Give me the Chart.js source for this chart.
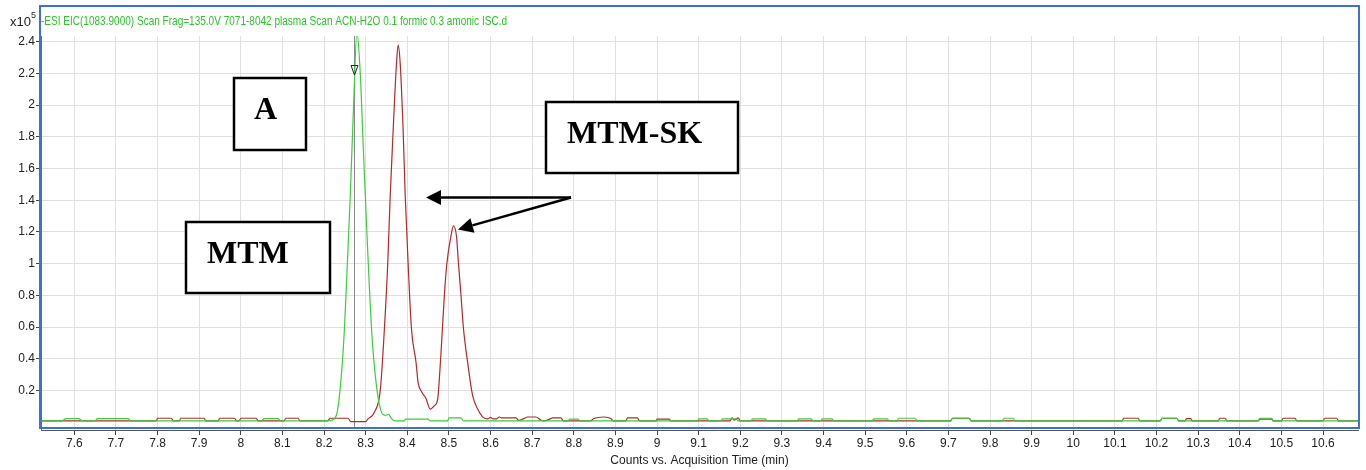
<!DOCTYPE html>
<html>
<head>
<meta charset="utf-8">
<script src="https://cdn.jsdelivr.net/npm/chart.js@4.4.1/dist/chart.umd.min.js"></script>
<style>
  html, body { margin: 0; padding: 0; background: #fff; }
  #wrap { width: 1366px; height: 470px; position: relative; }
</style>
</head>
<body>
<div id="wrap"><canvas id="eicChart"></canvas></div>
<script>
// Tick positions and labels
const xTicks = [7.6, 7.7, 7.8, 7.9, 8, 8.1, 8.2, 8.3, 8.4, 8.5, 8.6, 8.7, 8.8, 8.9, 9, 9.1, 9.2, 9.3, 9.4, 9.5,
  9.6, 9.7, 9.8, 9.9, 10, 10.1, 10.2, 10.3, 10.4, 10.5, 10.6];
const xTickLabels = ['7.6', '7.7', '7.8', '7.9', '8', '8.1', '8.2', '8.3', '8.4', '8.5', '8.6', '8.7', '8.8', '8.9', '9',
  '9.1', '9.2', '9.3', '9.4', '9.5', '9.6', '9.7', '9.8', '9.9', '10', '10.1', '10.2', '10.3', '10.4', '10.5', '10.6'];
const yTicks = [0.2, 0.4, 0.6, 0.8, 1, 1.2, 1.4, 1.6, 1.8, 2, 2.2, 2.4];
const yTickLabels = ['0.2', '0.4', '0.6', '0.8', '1', '1.2', '1.4', '1.6', '1.8', '2', '2.2', '2.4'];

// MTM trace (green), counts x10^5
const mtmTime = [7.52, 7.57, 7.58, 7.61, 7.62, 7.65, 7.655, 7.73, 7.735, 8.05, 8.056, 8.09, 8.095, 8.215,
  8.229, 8.240, 8.249, 8.256, 8.263, 8.271, 8.279, 8.287, 8.294, 8.302, 8.308, 8.314, 8.320, 8.329, 8.336,
  8.341, 8.350, 8.355, 8.362, 8.370, 8.392, 8.396, 8.45, 8.455, 8.497, 8.50, 8.529, 8.535, 8.786, 8.79,
  8.81, 8.815, 9.097, 9.10, 9.12, 9.125, 9.153, 9.157, 9.19, 9.195, 9.225, 9.23, 9.26, 9.265, 9.337, 9.34,
  9.37, 9.375, 9.393, 9.397, 9.42, 9.425, 9.517, 9.52, 9.553, 9.558, 9.577, 9.58, 9.62, 9.625, 9.705, 9.71,
  9.75, 9.755, 9.829, 9.833, 9.856, 9.86, 10.209, 10.213, 10.249, 10.253, 10.444, 10.448, 10.477, 10.48, 10.684];
const mtmCounts = [0.009, 0.009, 0.024, 0.024, 0.009, 0.009, 0.024, 0.024, 0.009, 0.009, 0.024, 0.024, 0.009, 0.012,
  0.04, 0.25, 0.59, 1.0, 1.43, 2.0, 2.46, 2.2, 1.75, 1.25, 0.9, 0.59, 0.38, 0.17, 0.08,
  0.05, 0.045, 0.05, 0.025, 0.009, 0.009, 0.02, 0.02, 0.009, 0.009, 0.028, 0.028, 0.009, 0.009, 0.02,
  0.02, 0.009, 0.009, 0.022, 0.022, 0.009, 0.009, 0.022, 0.022, 0.009, 0.009, 0.022, 0.022, 0.009, 0.009, 0.022,
  0.022, 0.009, 0.009, 0.022, 0.022, 0.009, 0.009, 0.022, 0.022, 0.009, 0.009, 0.026, 0.026, 0.009, 0.009, 0.026,
  0.026, 0.009, 0.009, 0.026, 0.026, 0.009, 0.009, 0.026, 0.026, 0.009, 0.009, 0.026, 0.026, 0.009, 0.009];

// MTM-SK trace (dark red), counts x10^5
const mtmSkTime = [7.52, 7.797, 7.80, 7.833, 7.838, 7.852, 7.856, 7.912, 7.916, 7.945, 7.95, 7.985, 7.99, 7.996,
  8.0, 8.037, 8.042, 8.104, 8.108, 8.138, 8.142, 8.209, 8.214, 8.258, 8.264, 8.30, 8.305, 8.321, 8.335,
  8.345, 8.353, 8.359, 8.366, 8.374, 8.378, 8.383, 8.390, 8.395, 8.402, 8.410, 8.421, 8.426, 8.435, 8.445,
  8.455, 8.465, 8.473, 8.477, 8.482, 8.489, 8.495, 8.505, 8.511, 8.518, 8.523, 8.529, 8.535, 8.545, 8.557,
  8.569, 8.581, 8.593, 8.60, 8.606, 8.615, 8.621, 8.628, 8.661, 8.668, 8.68, 8.689, 8.709, 8.72, 8.728,
  8.745, 8.749, 8.769, 8.775, 8.84, 8.848, 8.872, 8.889, 8.895, 8.925, 8.929, 8.953, 8.958, 8.998, 9.0,
  9.029, 9.033, 9.175, 9.18, 9.185, 9.195, 9.20, 9.705, 9.71, 9.75, 9.755, 10.117, 10.121, 10.156, 10.16,
  10.209, 10.213, 10.249, 10.253, 10.268, 10.272, 10.282, 10.286, 10.348, 10.352, 10.365, 10.369, 10.444,
  10.448, 10.477, 10.48, 10.50, 10.504, 10.533, 10.537, 10.60, 10.604, 10.633, 10.637, 10.684];
const mtmSkCounts = [0.009, 0.009, 0.026, 0.026, 0.009, 0.009, 0.026, 0.026, 0.009, 0.009, 0.026, 0.026, 0.009, 0.009,
  0.026, 0.026, 0.009, 0.009, 0.026, 0.026, 0.009, 0.009, 0.026, 0.026, 0.005, 0.005, 0.02, 0.064, 0.2,
  0.59, 1.0, 1.43, 1.84, 2.26, 2.377, 2.26, 1.84, 1.43, 1.0, 0.59, 0.378, 0.25, 0.19, 0.15,
  0.084, 0.105, 0.147, 0.273, 0.483, 0.8, 1.0, 1.176, 1.239, 1.176, 1.0, 0.8, 0.59, 0.378, 0.168,
  0.084, 0.035, 0.022, 0.032, 0.022, 0.022, 0.034, 0.028, 0.028, 0.012, 0.024, 0.034, 0.034, 0.016, 0.009,
  0.024, 0.028, 0.028, 0.01, 0.009, 0.024, 0.034, 0.024, 0.009, 0.009, 0.028, 0.028, 0.009, 0.009, 0.02,
  0.02, 0.009, 0.009, 0.028, 0.014, 0.028, 0.009, 0.009, 0.026, 0.026, 0.009, 0.009, 0.026, 0.026, 0.009,
  0.009, 0.026, 0.026, 0.009, 0.009, 0.024, 0.024, 0.009, 0.009, 0.026, 0.026, 0.009, 0.009,
  0.02, 0.02, 0.009, 0.009, 0.026, 0.026, 0.009, 0.009, 0.026, 0.026, 0.009, 0.009];

const markerTime = 8.272; // retention time cursor

const narrowFont = "'Liberation Sans Narrow', 'Liberation Sans', Arial, sans-serif";
const serifFont = "'Liberation Serif', 'Times New Roman', serif";

function toPoints(times, counts) {
  return times.map((t, i) => ({ x: t, y: counts[i] }));
}

// draws a straight arrow with a filled head
function arrow(ctx, x1, y1, x2, y2) {
  const ang = Math.atan2(y2 - y1, x2 - x1);
  const headLen = 15, headW = 7.5;
  const bx = x2 - headLen * Math.cos(ang), by = y2 - headLen * Math.sin(ang);
  ctx.beginPath();
  ctx.moveTo(x1, y1);
  ctx.lineTo(bx, by);
  ctx.stroke();
  ctx.beginPath();
  ctx.moveTo(x2, y2);
  ctx.lineTo(bx + headW * Math.sin(ang), by - headW * Math.cos(ang));
  ctx.lineTo(bx - headW * Math.sin(ang), by + headW * Math.cos(ang));
  ctx.closePath();
  ctx.fill();
}

function labelBox(ctx, x, y, w, h, text, tx, ty) {
  ctx.fillStyle = '#fff';
  ctx.fillRect(x, y, w, h);
  ctx.lineWidth = 2.5;
  ctx.strokeStyle = '#000';
  ctx.strokeRect(x, y, w, h);
  ctx.fillStyle = '#000';
  ctx.font = 'bold 32px ' + serifFont;
  ctx.textAlign = 'left';
  ctx.textBaseline = 'alphabetic';
  ctx.fillText(text, tx, ty);
}

const cursorPlugin = {
  id: 'cursor',
  beforeDatasetsDraw(chart) {
    const { ctx, chartArea, scales } = chart;
    const x = Math.round(scales.x.getPixelForValue(markerTime)) + 0.5;
    ctx.save();
    ctx.strokeStyle = '#8a8a8a';
    ctx.lineWidth = 1;
    ctx.beginPath();
    ctx.moveTo(x, chartArea.top);
    ctx.lineTo(x, chartArea.bottom - 2);
    ctx.stroke();
    ctx.restore();
  },
  afterDatasetsDraw(chart) {
    const { ctx, scales } = chart;
    const x = Math.round(scales.x.getPixelForValue(markerTime)) + 0.5;
    ctx.save();
    ctx.strokeStyle = '#222';
    ctx.lineWidth = 1;
    ctx.beginPath();
    ctx.moveTo(x - 3.5, 65.5);
    ctx.lineTo(x + 3.5, 65.5);
    ctx.lineTo(x, 75);
    ctx.closePath();
    ctx.stroke();
    ctx.restore();
  }
};

const framePlugin = {
  id: 'frame',
  afterDraw(chart) {
    const ctx = chart.ctx;
    ctx.save();
    // blue frame around plot
    ctx.strokeStyle = '#3f6fd1';
    ctx.lineWidth = 2;
    ctx.strokeRect(40, 6, 1319, 422);

    // header text, squeezed to the width it has in the reference
    ctx.fillStyle = '#2fc12f';
    ctx.font = '13px ' + narrowFont;
    ctx.textBaseline = 'middle';
    ctx.textAlign = 'left';
    const header = '-ESI EIC(1083.9000) Scan Frag=135.0V 7071-8042 plasma Scan ACN-H2O 0.1 formic 0.3 amonic ISC.d';
    const w = ctx.measureText(header).width;
    ctx.save();
    ctx.translate(41, 21);
    ctx.scale(466 / w, 1);
    ctx.fillText(header, 0, 0);
    ctx.restore();

    // exponent label
    ctx.fillStyle = '#222';
    ctx.font = '13px ' + narrowFont;
    ctx.fillText('x10', 10, 22);
    ctx.font = '9px ' + narrowFont;
    ctx.fillText('5', 31, 16);

    // annotation boxes
    labelBox(ctx, 234, 78, 72, 72, 'A', 254, 119);
    labelBox(ctx, 186, 222, 144, 71, 'MTM', 207, 263);
    labelBox(ctx, 546, 102, 192, 71, 'MTM-SK', 567, 143);

    // arrows
    ctx.strokeStyle = '#000';
    ctx.fillStyle = '#000';
    ctx.lineWidth = 2.5;
    arrow(ctx, 571, 197.5, 426, 197.5);
    arrow(ctx, 571, 197.5, 458, 229.5);
    ctx.restore();
  }
};

const ctx = document.getElementById('eicChart').getContext('2d');
new Chart(ctx, {
  type: 'line',
  data: {
    datasets: [{
      label: 'MTM',
      data: toPoints(mtmTime, mtmCounts),
      borderColor: '#3ccc3c',
      borderWidth: 1.2,
      pointRadius: 0,
      cubicInterpolationMode: 'monotone',
      fill: false
    }, {
      label: 'MTM-SK',
      data: toPoints(mtmSkTime, mtmSkCounts),
      borderColor: '#b02a2a',
      borderWidth: 1.2,
      pointRadius: 0,
      cubicInterpolationMode: 'monotone',
      fill: false
    }]
  },
  options: {
    responsive: true,
    maintainAspectRatio: false,
    animation: false,
    layout: { padding: { top: 36, right: 8, left: 0, bottom: 0 } },
    plugins: {
      legend: { display: false },
      tooltip: { enabled: false }
    },
    scales: {
      x: {
        type: 'linear',
        min: 7.52,
        max: 10.684,
        afterBuildTicks: s => { s.ticks = xTicks.map(v => ({ value: v })); },
        afterFit: s => { s.height = 40; },
        grid: { color: '#e0e0e0', tickLength: 5, tickColor: '#444' },
        border: { color: '#555' },
        ticks: {
          autoSkip: false,
          maxRotation: 0,
          padding: 1,
          color: '#222',
          font: { family: narrowFont, size: 12 },
          callback: (v, i) => xTickLabels[i]
        },
        title: {
          display: true,
          text: 'Counts vs. Acquisition Time (min)',
          color: '#222',
          font: { family: narrowFont, size: 12 },
          padding: { top: 0, bottom: 2 }
        }
      },
      y: {
        min: -0.048,
        max: 2.435,
        afterBuildTicks: s => { s.ticks = yTicks.map(v => ({ value: v })); },
        afterFit: s => { s.width = 41; },
        grid: { color: '#e0e0e0', tickLength: 5, tickColor: '#444' },
        border: { color: '#3f6fd1' },
        ticks: {
          padding: 1,
          color: '#222',
          font: { family: narrowFont, size: 12 },
          callback: (v, i) => yTickLabels[i]
        }
      }
    }
  },
  plugins: [cursorPlugin, framePlugin]
});
</script>
</body>
</html>
